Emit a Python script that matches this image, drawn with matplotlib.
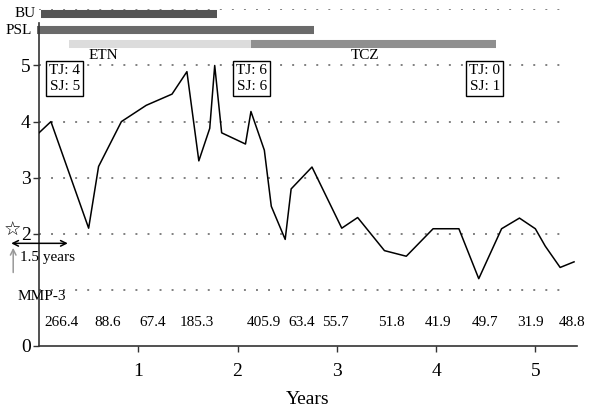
import matplotlib
matplotlib.use("Agg")
import matplotlib.pyplot as plt

# ---- data ----
years = [0.0, 0.12, 0.50, 0.60, 0.83, 1.08, 1.34, 1.49, 1.61, 1.72, 1.77, 1.84,
         2.08, 2.135, 2.27, 2.34, 2.48, 2.54, 2.75, 3.05, 3.21, 3.48, 3.70,
         3.97, 4.23, 4.43, 4.66, 4.84, 5.00, 5.10, 5.25, 5.39]
score = [3.80, 4.00, 2.10, 3.20, 4.00, 4.29, 4.49, 4.89, 3.30, 3.88, 5.00, 3.80,
         3.60, 4.18, 3.49, 2.49, 1.90, 2.80, 3.19, 2.10, 2.29, 1.70, 1.60,
         2.09, 2.09, 1.20, 2.09, 2.28, 2.09, 1.78, 1.40, 1.50]

mmp3_x = [0.23, 0.69, 1.15, 1.59, 2.27, 2.65, 2.99, 3.55, 4.02, 4.49, 4.95, 5.37]
mmp3_labels = ["266.4", "88.6", "67.4", "185.3", "405.9", "63.4", "55.7",
               "51.8", "41.9", "49.7", "31.9", "48.8"]

drug_names = ["BU", "PSL", "ETN", "TCZ"]
drug_start = [0.02, -0.02, 0.30, 2.135]
drug_end = [1.79, 2.77, 2.135, 4.60]
drug_row = [5.92, 5.63, 5.38, 5.38]
drug_colors = ["#555555", "#6a6a6a", "#dcdcdc", "#8f8f8f"]

box_x = [0.26, 2.145, 4.49]
box_text = ["TJ: 4\nSJ: 5", "TJ: 6\nSJ: 6", "TJ: 0\nSJ: 1"]

yticks = [0, 2, 3, 4, 5]
xticks = [1, 2, 3, 4, 5]

plt.rcParams['font.family'] = ['Liberation Serif', 'DejaVu Serif']

fig = plt.figure(figsize=(5.92, 4.12), dpi=100)
ax = fig.add_axes([0.0659, 0.1602, 0.9088, 0.817])
ax.set_xlim(0, 5.42)
ax.set_ylim(0, 6)

# grid lines
for g in [1, 2, 3, 4, 5, 6]:
    ax.axhline(g, xmin=0.0, xmax=0.98, color="#808080", lw=1.4,
               linestyle=(0, (1, 5.2)), zorder=0)

# drug bars
for name, s, e, r, c in zip(drug_names, drug_start, drug_end, drug_row, drug_colors):
    ax.plot([s, e], [r, r], color=c, lw=5.8, solid_capstyle='butt',
            clip_on=False, zorder=2)

ax.text(-0.03, drug_row[0], "BU", ha='right', va='center', fontsize=11, clip_on=False)
ax.text(-0.07, drug_row[1], "PSL", ha='right', va='center', fontsize=11, clip_on=False)
ax.text(0.645, 5.17, "ETN", ha='center', va='center', fontsize=11)
ax.text(3.28, 5.17, "TCZ", ha='center', va='center', fontsize=11)

# main line
ax.plot(years, score, color="black", lw=1.1, zorder=3)

# joint boxes
for bx, t in zip(box_x, box_text):
    ax.text(bx, 4.77, t, ha='center', va='center', fontsize=11, linespacing=1.25,
            bbox=dict(boxstyle='square,pad=0.2', facecolor='white',
                      edgecolor='black', lw=1.0), zorder=4)

# MMP-3 values
ax.text(-0.22, 0.89, "MMP-3", ha='left', va='center', fontsize=11, clip_on=False)
for mx, ml in zip(mmp3_x, mmp3_labels):
    ax.text(mx, 0.42, ml, ha='center', va='center', fontsize=11)

# star, arrows
ax.text(-0.265, 2.06, "\u2606", ha='center', va='center', fontsize=14,
        color='black', family=['DejaVu Sans'], clip_on=False)
ax.annotate("", xy=(-0.28, 1.83), xytext=(0.29, 1.83),
            arrowprops=dict(arrowstyle='<->', color='black', lw=1.1,
                            shrinkA=0, shrinkB=0), annotation_clip=False)
ax.annotate("", xy=(-0.26, 1.75), xytext=(-0.26, 1.31),
            arrowprops=dict(arrowstyle='->', color='#999999', lw=1.1,
                            shrinkA=0, shrinkB=0), annotation_clip=False)
ax.text(-0.19, 1.57, "1.5 years", ha='left', va='center', fontsize=11, clip_on=False)

# axes styling
for sp in ['top', 'right']:
    ax.spines[sp].set_visible(False)
ax.spines['left'].set_bounds(0, 5.75)
ax.spines['left'].set_linewidth(1.2)
ax.spines['bottom'].set_linewidth(1.2)
ax.spines['left'].set_color('#333333')
ax.spines['bottom'].set_color('#333333')
ax.set_yticks(yticks)
ax.set_yticklabels([str(v) for v in yticks], fontsize=14)
ax.set_xticks(xticks)
ax.set_xticklabels([str(v) for v in xticks], fontsize=14)
ax.tick_params(axis='both', direction='out', length=4, width=1.0, color='#333333')
ax.tick_params(axis='y', pad=2)
ax.tick_params(axis='x', pad=8)
ax.set_xlabel("Years", fontsize=14, labelpad=8)

fig.savefig("out.png", dpi=100)
